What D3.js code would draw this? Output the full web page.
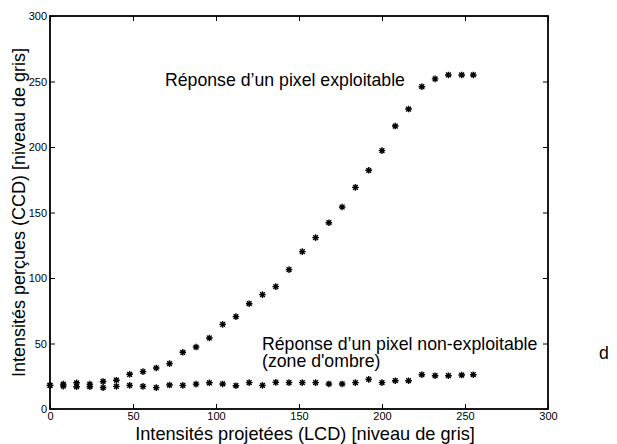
<!DOCTYPE html>
<html>
<head>
<meta charset="utf-8">
<script src="https://cdn.jsdelivr.net/npm/d3@7"></script>
<style>
  body { margin: 0; background: #fff; }
  text { font-family: "Liberation Sans", Arial, Helvetica, sans-serif; fill: #000; }
</style>
</head>
<body>
<svg width="617" height="444"></svg>
<script>
// projected intensities (LCD), step of 8
var levels = [0, 8, 16, 24, 32, 40, 48, 56, 64, 72, 80, 88, 96, 104, 112, 120, 128,
    136, 144, 152, 160, 168, 176, 184, 192, 200, 208, 216, 224, 232, 240, 248, 255];
// perceived intensities (CCD)
var goodPixel = [18, 19, 20, 19, 21, 22, 26.5, 28.5, 31.3, 34.6, 43.3, 47.3, 54.2, 64.6, 70.5, 80.4, 87.3,
    93.4, 106.4, 120.1, 130.8, 142.2, 154.2, 169.2, 182.2, 197.2, 216, 229, 246, 252, 255, 255, 255];
var badPixel = [18, 17.5, 17, 17, 16.3, 17.3, 18, 17.3, 16.3, 18.3, 18, 19, 20, 19.1, 17.8, 20.1, 18,
    20.3, 20.1, 20.1, 20.1, 19.1, 19.1, 20.1, 22.6, 20.1, 21.6, 21.6, 26.2, 25.4, 25.4, 25.9, 26.2];
var xTicks = [0, 50, 100, 150, 200, 250, 300];
var yTicks = [0, 50, 100, 150, 200, 250, 300];

var svg = d3.select('svg');
// ("top" is taken by window.top, so plot box edges get their own names)
var pLeft = 50, pRight = 548, pTop = 16, pBottom = 409;

var x = d3.scaleLinear().domain([0, 300]).range([pLeft, pRight]);
var y = d3.scaleLinear().domain([0, 300]).range([pBottom, pTop]);

// axes, ticks pointing inside like matlab
function styleAxis(g) {
    g.select('.domain').remove();
    g.selectAll('.tick line').attr('stroke', '#000').attr('stroke-width', 1);
    g.selectAll('.tick text').style('font-size', '11px').attr('fill', '#000');
}
svg.append('g')
    .attr('transform', 'translate(0,' + pBottom + ')')
    .call(d3.axisBottom(x).tickValues(xTicks).tickSizeInner(-5).tickSizeOuter(0).tickPadding(3))
    .call(styleAxis);
svg.append('g')
    .attr('transform', 'translate(' + pLeft + ',0)')
    .call(d3.axisLeft(y).tickValues(yTicks).tickSizeInner(-5).tickSizeOuter(0).tickPadding(3))
    .call(styleAxis);
svg.append('g')
    .attr('transform', 'translate(0,' + pTop + ')')
    .call(d3.axisTop(x).tickValues(xTicks).tickSizeInner(-5).tickSizeOuter(0).tickFormat(''))
    .call(styleAxis);
svg.append('g')
    .attr('transform', 'translate(' + pRight + ',0)')
    .call(d3.axisRight(y).tickValues(yTicks).tickSizeInner(-5).tickSizeOuter(0).tickFormat(''))
    .call(styleAxis);

svg.append('rect')
    .attr('x', pLeft).attr('y', pTop)
    .attr('width', pRight - pLeft).attr('height', pBottom - pTop)
    .attr('fill', 'none').attr('stroke', '#000').attr('stroke-width', 1.8);

// asterisk markers
var r = 3.3, d = r * 0.72;
var star = 'M0,' + (-r) + 'V' + r + 'M' + (-r) + ',0H' + r +
    'M' + (-d) + ',' + (-d) + 'L' + d + ',' + d + 'M' + (-d) + ',' + d + 'L' + d + ',' + (-d);

function drawSeries(vals) {
    svg.append('g').selectAll('path')
        .data(levels)
        .enter().append('path')
        .attr('transform', (lv, i) => 'translate(' + x(lv) + ',' + y(vals[i]) + ')')
        .attr('d', star)
        .attr('stroke', '#000')
        .attr('stroke-width', 1.4)
        .attr('fill', 'none');
}
drawSeries(goodPixel);
drawSeries(badPixel);

// labels
svg.append('text')
    .attr('x', 305).attr('y', 440)
    .style('text-anchor', 'middle').style('font-size', '18.2px')
    .text('Intensités projetées (LCD) [niveau de gris]');
svg.append('text')
    .attr('transform', 'translate(25,' + (pTop + pBottom) / 2 + ') rotate(-90)')
    .style('text-anchor', 'middle').style('font-size', '18px')
    .text('Intensités perçues (CCD) [niveau de gris]');

svg.append('text')
    .attr('x', 165).attr('y', 86).style('font-size', '17.7px')
    .text('Réponse d’un pixel exploitable');
svg.append('text')
    .attr('x', 262).attr('y', 350).style('font-size', '17.7px')
    .text('Réponse d’un pixel non-exploitable');
svg.append('text')
    .attr('x', 262).attr('y', 367).style('font-size', '17.7px')
    .text("(zone d'ombre)");
svg.append('text')
    .attr('x', 599).attr('y', 359).style('font-size', '17.7px')
    .text('d');
</script>
</body>
</html>
